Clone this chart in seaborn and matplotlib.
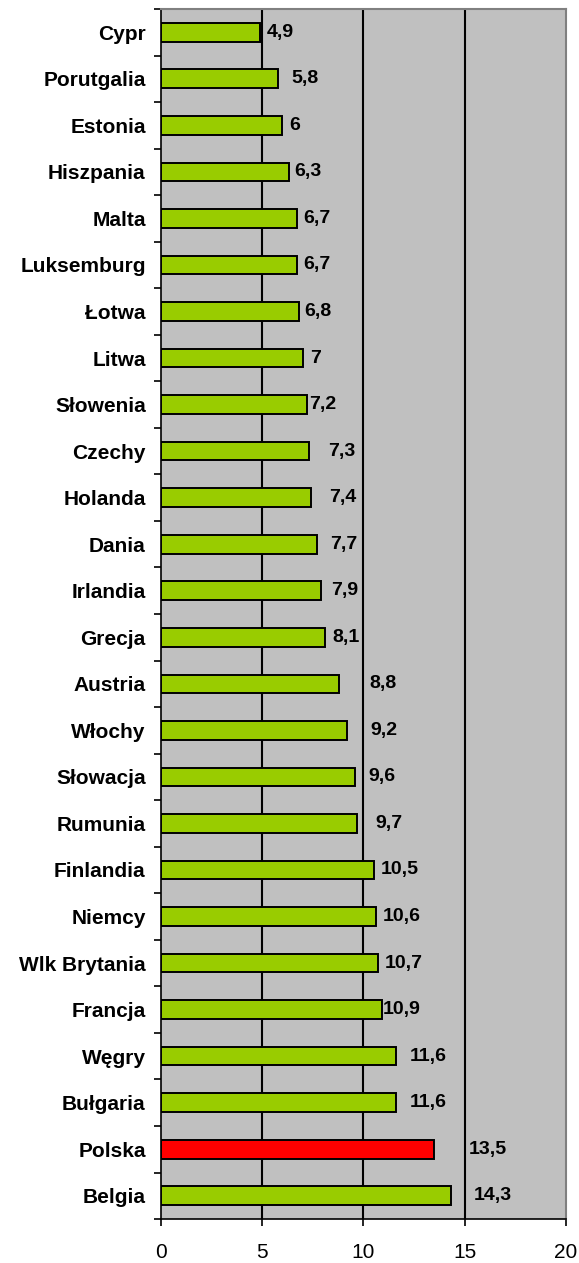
import pandas as pd
import matplotlib.pyplot as plt
import seaborn as sns
import numpy as np

# Data
countries = [
    "Cypr", "Porutgalia", "Estonia", "Hiszpania", "Malta", "Luksemburg",
    "Łotwa", "Litwa", "Słowenia", "Czechy", "Holanda", "Dania", "Irlandia",
    "Grecja", "Austria", "Włochy", "Słowacja", "Rumunia", "Finlandia",
    "Niemcy", "Wlk Brytania", "Francja", "Węgry", "Bułgaria", "Polska", "Belgia",
]
values = [
    4.9, 5.8, 6, 6.3, 6.7, 6.7, 6.8, 7, 7.2, 7.3, 7.4, 7.7, 7.9,
    8.1, 8.8, 9.2, 9.6, 9.7, 10.5, 10.6, 10.7, 10.9, 11.6, 11.6, 13.5, 14.3,
]
highlight = "Polska"
x_ticks = [0, 5, 10, 15, 20]

# gap (px) between bar end and its value label, as Excel placed them
label_gap = [
    7, 13, 7, 6, 7, 7, 6, 7, 2, 19, 18, 13, 10,
    7, 30, 23, 13, 18, 7, 7, 7, 1, 14, 14, 34, 23,
]

df = pd.DataFrame({"Kraj": countries, "Wartość": values})
green = "#99CC00"
red = "#FF0000"
palette = {c: (red if c == highlight else green) for c in countries}

plt.rcParams["font.family"] = ["Liberation Sans", "DejaVu Sans"]

fig = plt.figure(figsize=(5.79, 12.63), dpi=100)
ax = fig.add_axes([0.278, 0.0348, 0.6995, 0.9581])
ax.set_facecolor("#C0C0C0")

sns.barplot(
    data=df, y="Kraj", x="Wartość", hue="Kraj", palette=palette,
    orient="h", width=0.4, edgecolor="black", linewidth=1.4,
    saturation=1, legend=False, ax=ax, zorder=3,
)

# vertical gridlines
for t in x_ticks[1:-1]:
    ax.axvline(t, color="black", linewidth=1.5, zorder=1)

ax.set_xlim(0, 20)
ax.set_ylim(len(countries) - 0.5, -0.5)
ax.set_xticks(x_ticks)
ax.set_xlabel("")
ax.set_ylabel("")

# value labels with comma decimal
for cont, gap in zip(ax.containers, label_gap):
    labs = [f"{v:g}".replace(".", ",") for v in cont.datavalues]
    ax.bar_label(cont, labels=labs, padding=gap * 0.72, fontsize=14,
                 fontweight="bold")

# category ticks on boundaries, Excel style
ax.set_yticks(np.arange(-0.5, len(countries), 1), minor=True)
ax.tick_params(axis="y", which="major", length=0, pad=11, labelsize=15)
ax.tick_params(axis="y", which="minor", length=5, width=1.2, direction="out")
ax.tick_params(axis="x", length=5, width=1.2, pad=12, labelsize=15)
for lab in ax.get_yticklabels():
    lab.set_fontweight("bold")

for side in ["top", "right"]:
    ax.spines[side].set_color("#808080")
    ax.spines[side].set_linewidth(1.5)
for side in ["left", "bottom"]:
    ax.spines[side].set_color("black")
    ax.spines[side].set_linewidth(1.2)

fig.savefig("out.png", dpi=100)
